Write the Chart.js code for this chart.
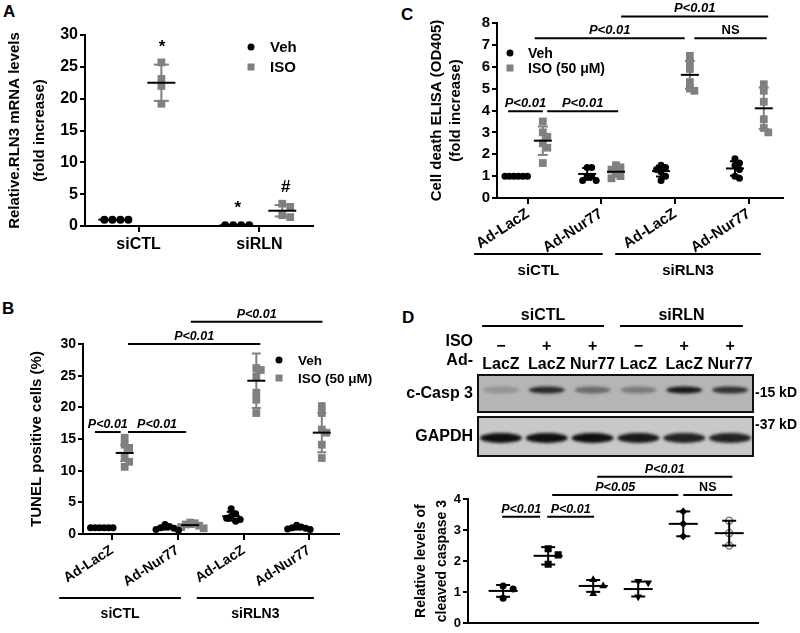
<!DOCTYPE html>
<html>
<head>
<meta charset="utf-8">
<script src="https://cdn.jsdelivr.net/npm/chart.js@4/dist/chart.umd.min.js"></script>
<style>
  body { margin: 0; background: #fff; width: 800px; height: 633px; position: relative; overflow: hidden; }
  canvas { position: absolute; left: 0; top: 0; }
  .tag { position: absolute; font: bold 17px "Liberation Sans", Arial, sans-serif; line-height: 1; }
</style>
</head>
<body>
<div class="tag" style="left:3px;top:3px">A</div>
<div class="tag" style="left:2px;top:300px">B</div>
<div class="tag" style="left:401px;top:6px">C</div>
<div class="tag" style="left:402px;top:309px">D</div>
<canvas id="cA" width="800" height="633"></canvas>
<canvas id="cB" width="800" height="633"></canvas>
<canvas id="cC" width="800" height="633"></canvas>
<canvas id="cBlot" width="800" height="633"></canvas>
<canvas id="cD" width="800" height="633"></canvas>
<script>
// ---- A: relative RLN3 mRNA ----
const aCats = ["siCTL", "siRLN"];
const aVeh = [[1, 1, 1, 1], [0.1, 0.1, 0.1, 0.1]];
const aIso = [[25.7, 23.1, 22.0, 19.2], [3.5, 3.0, 1.7, 1.4]];
const aVehMean = [1, 0.1];
const aVehSd = [0, 0];
const aIsoMean = [22.5, 2.4];
const aIsoSd = [2.85, 0.9];
const aTicks = [0, 5, 10, 15, 20, 25, 30];

// ---- B: TUNEL positive cells ----
const bCats = ["Ad-LacZ", "Ad-Nur77", "Ad-LacZ", "Ad-Nur77"];
const bSets = ["siCTL", "siRLN3"];
const bVeh = [[1, 1, 1, 1, 1, 1], [1.5, 1.2, 1.0, 0.9, 0.7, 0.6], [4.0, 3.2, 2.8, 2.5, 2.3, 2.0], [1.4, 1.1, 1.0, 0.9, 0.8, 0.7]];
const bIso = [[15.2, 14.1, 13.6, 12.2, 11.4, 10.6], [1.8, 1.7, 1.5, 1.3, 1.1, 0.9], [26.2, 25.9, 24.9, 22.3, 21.2, 19.1], [20.2, 19.1, 16.5, 16.0, 14.1, 12.0]];
const bVehMean = [1.0, 1.0, 2.8, 0.95];
const bVehSd = [0.05, 0.3, 0.7, 0.25];
const bIsoMean = [12.8, 1.4, 24.2, 16.0];
const bIsoSd = [1.3, 0.3, 4.3, 3.1];
const bTicks = [0, 5, 10, 15, 20, 25, 30];

// ---- C: cell death ELISA ----
const cCats = ["Ad-LacZ", "Ad-Nur77", "Ad-LacZ", "Ad-Nur77"];
const cSets = ["siCTL", "siRLN3"];
const cVeh = [[1, 1, 1, 1, 1, 1], [1.4, 1.4, 1.0, 1.0, 0.8, 0.8], [1.5, 1.4, 1.3, 1.2, 1.0, 0.8], [1.8, 1.6, 1.5, 1.3, 1.0, 0.9]];
const cIso = [[3.5, 3.0, 2.8, 2.5, 2.3, 1.6], [1.5, 1.4, 1.3, 1.1, 1.0, 0.9], [6.5, 6.2, 5.9, 5.3, 5.0, 4.9], [5.2, 4.9, 4.4, 3.6, 3.2, 3.0]];
const cVehMean = [1.0, 1.1, 1.23, 1.35];
const cVehSd = [0.02, 0.27, 0.25, 0.33];
const cIsoMean = [2.62, 1.2, 5.63, 4.1];
const cIsoSd = [0.65, 0.2, 0.63, 0.95];
const cTicks = [0, 1, 2, 3, 4, 5, 6, 7, 8];

// ---- D: western blot + cleaved caspase 3 ----
const blotLanes = ["LacZ", "LacZ", "Nur77", "LacZ", "LacZ", "Nur77"];
const blotIso = ["\u2212", "+", "+", "\u2212", "+", "+"];
const blotSets = ["siCTL", "siRLN"];
const casp3Density = [0.2, 0.85, 0.45, 0.35, 0.95, 0.8];
const gapdhDensity = [1, 1, 1, 0.95, 0.9, 0.9];
const dVals = [[1.2, 1.1, 0.8], [2.4, 2.2, 1.9], [1.4, 1.2, 0.95], [1.35, 1.3, 0.85], [3.6, 3.2, 2.8], [3.3, 2.9, 2.5]];
const dMean = [1.04, 2.17, 1.2, 1.1, 3.2, 2.9];
const dSd = [0.19, 0.28, 0.19, 0.24, 0.4, 0.4];
const dTicks = [0, 1, 2, 3, 4];

const FONT = "'Liberation Sans', Arial, sans-serif";
const GRAY = "#808080";
Chart.defaults.font.family = FONT;
Chart.defaults.color = "#000";

function seg(ctx, x1, y1, x2, y2) {
  ctx.beginPath(); ctx.moveTo(x1, y1); ctx.lineTo(x2, y2); ctx.stroke();
}

// spread points with near-equal values sideways, like a column scatter
function swarm(vals, pxX, pxY, sw) {
  const placed = [];
  return vals.map(v => {
    const py = v * pxY;
    let off = 0;
    for (let k = 0; k < 30; k++) {
      off = (k % 2 ? 1 : -1) * Math.ceil(k / 2) * sw.step;
      if (!placed.some(p => Math.abs(p.y - py) < sw.cy && Math.abs(p.x - off) < sw.cx)) break;
    }
    placed.push({x: off, y: py});
    return off / pxX;
  });
}

function dotPlot(id, p) {
  const A = p.area;
  const pxX = (A.r - A.l) / p.xMax, pxY = (A.b - A.t) / p.yMax;
  const at = (s, i) => p.centers[s.idx ? s.idx[i] : i] + s.off;

  const datasets = p.series.map(s => {
    const data = [];
    s.vals.forEach((g, i) => {
      const sw = swarm(g, pxX, pxY, p.sw);
      g.forEach((v, k) => data.push({x: at(s, i) + sw[k], y: v}));
    });
    return {
      data, pointStyle: s.style, pointRadius: s.r, pointRotation: s.rot || 0,
      backgroundColor: s.fill || s.color, borderColor: s.color, borderWidth: s.bw || 0
    };
  });

  const deco = {
    id: "deco",
    afterDatasetsDraw(chart) {
      const {ctx, scales: {x, y}} = chart;
      ctx.save();
      ctx.lineWidth = 2;
      p.series.forEach(s => s.vals.forEach((g, i) => {
        const cx = x.getPixelForValue(at(s, i));
        const m = s.mean[i], sd = s.sd[i];
        const yt = y.getPixelForValue(m + sd), yb = y.getPixelForValue(m - sd), ym = y.getPixelForValue(m);
        ctx.strokeStyle = s.err;
        if (sd > 0) {
          seg(ctx, cx, yt, cx, yb);
          seg(ctx, cx - p.cw, yt, cx + p.cw, yt);
          seg(ctx, cx - p.cw, yb, cx + p.cw, yb);
        }
        ctx.strokeStyle = "#000";
        seg(ctx, cx - p.mw, ym, cx + p.mw, ym);
      }));
      ctx.restore();
    },
    afterDraw(chart) {
      const {ctx, chartArea, scales: {x, y}} = chart;
      ctx.save();
      ctx.lineWidth = 2; ctx.strokeStyle = "#000"; ctx.fillStyle = "#000";
      ctx.textAlign = "center"; ctx.textBaseline = "alphabetic";
      (p.sig || []).forEach(([x1, x2, v, t]) => {
        const py = y.getPixelForValue(v), a = x.getPixelForValue(x1), b = x.getPixelForValue(x2);
        seg(ctx, a, py, b, py);
        ctx.font = (t === "NS" ? "bold " : "italic bold ") + p.sigFont + "px " + FONT;
        ctx.fillText(t, (a + b) / 2, py - 4);
      });
      (p.sets || []).forEach(([x1, x2, t]) => {
        const a = x.getPixelForValue(x1), b = x.getPixelForValue(x2);
        const ly = chartArea.bottom + p.setLine;
        seg(ctx, a, ly, b, ly);
        ctx.font = "bold " + p.setFont + "px " + FONT;
        ctx.fillText(t, (a + b) / 2, ly + p.setText);
      });
      ctx.font = "bold " + (p.markFont || 16) + "px " + FONT;
      (p.marks || []).forEach(([xv, v, t]) => ctx.fillText(t, x.getPixelForValue(xv), y.getPixelForValue(v)));
      if (p.legend) {
        const L = p.legend;
        ctx.font = "bold " + L.font + "px " + FONT;
        ctx.textAlign = "left"; ctx.textBaseline = "middle";
        L.items.forEach((it, k) => {
          const ly = L.y + k * L.gap;
          ctx.fillStyle = it.color;
          if (it.style === "circle") { ctx.beginPath(); ctx.arc(L.x, ly, it.r, 0, Math.PI * 2); ctx.fill(); }
          else ctx.fillRect(L.x - it.r, ly - it.r, it.r * 2, it.r * 2);
          ctx.fillStyle = "#000";
          ctx.fillText(it.label, L.tx, ly + 1);
        });
      }
      ctx.restore();
    }
  };

  return new Chart(document.getElementById(id), {
    type: "scatter",
    data: {datasets},
    options: {
      responsive: false, animation: false, events: [],
      layout: {autoPadding: false, padding: {left: A.l - p.yW, right: 800 - A.r, top: A.t, bottom: 633 - A.b - p.xH}},
      plugins: {legend: {display: false}, tooltip: {enabled: false}},
      scales: {
        x: {
          type: "linear", min: 0, max: p.xMax,
          afterBuildTicks: s => { s.ticks = p.centers.map(v => ({value: v})); },
          afterFit: s => { s.height = p.xH; s.paddingLeft = 0; s.paddingRight = 0; },
          ticks: {
            display: !!p.xLabels, autoSkip: false, minRotation: p.rot || 0, maxRotation: p.rot || 0,
            font: {size: p.xFont, weight: "bold"}, padding: p.xPad, color: "#000",
            callback: (v, i) => p.xLabels ? p.xLabels[i] : ""
          },
          grid: {display: p.xTickMarks !== false, drawOnChartArea: false, tickLength: 6, color: "#000", lineWidth: 2},
          border: {display: true, color: "#000", width: 2}
        },
        y: {
          min: 0, max: p.yMax,
          afterBuildTicks: s => { s.ticks = p.yTicks.map(v => ({value: v})); },
          afterFit: s => { s.width = p.yW; },
          ticks: {font: {size: p.yFont, weight: "bold"}, padding: 2, color: "#000"},
          grid: {drawOnChartArea: false, tickLength: 5, color: "#000", lineWidth: 2},
          border: {color: "#000", width: 2},
          title: {
            display: true, text: p.yTitle, color: "#000",
            font: {size: p.titleFont, weight: "bold", lineHeight: p.titleLH + "px"},
            padding: {top: p.titlePad, bottom: 0}
          }
        }
      }
    },
    plugins: [deco]
  });
}

// Panel A
dotPlot("cA", {
  area: {l: 85, r: 313, t: 35, b: 226}, xMax: 2, yMax: 30, yTicks: aTicks, yW: 85, xH: 40,
  centers: [0.47, 1.53], xLabels: aCats, xFont: 16, xPad: 3,
  yFont: 16, yTitle: ["Relative.RLN3 mRNA levels", "(fold increase)"], titleFont: 15, titleLH: 25, titlePad: 2,
  mw: 14, cw: 7.5, sw: {cx: 7.5, cy: 6, step: 8},
  series: [
    {vals: aVeh, mean: aVehMean, sd: aVehSd, off: -0.23, style: "circle", r: 4, color: "#000", err: "#000"},
    {vals: aIso, mean: aIsoMean, sd: aIsoSd, off: 0.2, style: "rect", r: 5.5, color: GRAY, err: GRAY}
  ],
  marks: [[0.675, 27.3, "*"], [1.34, 2.0, "*"], [1.76, 5.3, "#"]], markFont: 17,
  legend: {x: 251, y: 47, gap: 20, tx: 270, font: 15, items: [
    {label: "Veh", style: "circle", r: 3.5, color: "#000"},
    {label: "ISO", style: "rect", r: 3.5, color: GRAY}
  ]}
});

// Panel B
dotPlot("cB", {
  area: {l: 83, r: 339, t: 344, b: 534}, xMax: 3.87, yMax: 30, yTicks: bTicks, yW: 55, xH: 60,
  centers: [0.44, 1.43, 2.43, 3.42], xLabels: bCats, xFont: 14, xPad: 2, rot: 33,
  yFont: 14, yTitle: "TUNEL positive cells (%)", titleFont: 15, titleLH: 17, titlePad: 0,
  mw: 9, cw: 4.5, sw: {cx: 4.5, cy: 6, step: 4.5},
  series: [
    {vals: bVeh, mean: bVehMean, sd: bVehSd, off: -0.19, style: "circle", r: 3.5, color: "#000", err: "#000"},
    {vals: bIso, mean: bIsoMean, sd: bIsoSd, off: 0.19, style: "rect", r: 5.5, color: GRAY, err: GRAY}
  ],
  sig: [[0.18, 0.57, 16.1, "P<0.01"], [0.68, 1.56, 16.1, "P<0.01"], [0.68, 2.68, 30, "P<0.01"], [1.63, 3.62, 33.5, "P<0.01"]],
  sigFont: 12.5,
  sets: [[-0.36, 1.48, bSets[0]], [1.72, 3.49, bSets[1]]], setLine: 64, setText: 20, setFont: 14,
  legend: {x: 279, y: 360, gap: 18, tx: 298, font: 13.5, items: [
    {label: "Veh", style: "circle", r: 3.5, color: "#000"},
    {label: "ISO (50 \u03bcM)", style: "rect", r: 3.5, color: GRAY}
  ]}
});

// Panel C
dotPlot("cC", {
  area: {l: 497, r: 783, t: 23, b: 198}, xMax: 3.87, yMax: 8, yTicks: cTicks, yW: 70, xH: 60,
  centers: [0.42, 1.41, 2.41, 3.41], xLabels: cCats, xFont: 15, xPad: 1, rot: 33,
  yFont: 15, yTitle: ["Cell death ELISA (OD405)", "(fold increase)"], titleFont: 15, titleLH: 19, titlePad: 0,
  mw: 9, cw: 5, sw: {cx: 4.5, cy: 6, step: 4.5},
  series: [
    {vals: cVeh, mean: cVehMean, sd: cVehSd, off: -0.19, style: "circle", r: 3.5, color: "#000", err: "#000"},
    {vals: cIso, mean: cIsoMean, sd: cIsoSd, off: 0.2, style: "rect", r: 5.5, color: GRAY, err: GRAY}
  ],
  sig: [[0.15, 0.62, 3.97, "P<0.01"], [0.68, 1.64, 3.97, "P<0.01"], [0.51, 2.54, 7.3, "P<0.01"], [1.68, 3.67, 8.3, "P<0.01"], [2.67, 3.65, 7.3, "NS"]],
  sigFont: 13,
  sets: [[-0.31, 1.43, cSets[0]], [1.6, 3.57, cSets[1]]], setLine: 56, setText: 21, setFont: 15,
  legend: {x: 510, y: 53, gap: 15, tx: 528, font: 14, items: [
    {label: "Veh", style: "circle", r: 3.5, color: "#000"},
    {label: "ISO (50 \u03bcM)", style: "rect", r: 3.5, color: GRAY}
  ]}
});

// Panel D, quantification
const dStyles = [
  {style: "circle", r: 3.5},
  {style: "rect", r: 5},
  {style: "triangle", r: 4.5},
  {style: "triangle", r: 4.5, rot: 180},
  {style: "rectRot", r: 4},
  {style: "circle", r: 3.5, fill: "#fff", color: GRAY, bw: 1.5}
];
dotPlot("cD", {
  area: {l: 468, r: 758, t: 499, b: 626}, xMax: 6.44, yMax: 4, yTicks: dTicks, yW: 57, xH: 5,
  centers: [0.78, 1.78, 2.78, 3.78, 4.78, 5.8], xTickMarks: false,
  yFont: 13, yTitle: ["Relative levels of", "cleaved caspase 3"], titleFont: 14, titleLH: 21, titlePad: 0,
  mw: 14.5, cw: 7, sw: {cx: 6, cy: 7, step: 5},
  series: dVals.map((v, k) => Object.assign({vals: [v], idx: [k], mean: [dMean[k]], sd: [dSd[k]], off: 0, color: "#000", err: "#000"}, dStyles[k])),
  sig: [[0.76, 1.6, 3.43, "P<0.01"], [1.76, 2.8, 3.43, "P<0.01"], [1.87, 4.67, 4.13, "P<0.05"], [4.78, 5.87, 4.13, "NS"], [2.87, 5.87, 4.72, "P<0.01"]],
  sigFont: 12.5
});

// Panel D, blot
const blot = {
  id: "blot",
  beforeDatasetsDraw(chart) {
    const {ctx, chartArea: c, scales: {x}} = chart;
    const boxes = [
      {top: c.top, bottom: c.top + 37, bg: "#b5b5b5", vals: casp3Density, yc: c.top + 15, h: 7, w: 36, label: "c-Casp 3", kd: "-15 kD", kdy: c.top + 18},
      {top: c.top + 42, bottom: c.bottom, bg: "#c8c8c8", vals: gapdhDensity, yc: c.top + 63, h: 10, w: 42, label: "GAPDH", kdy: c.top + 50, kd: "-37 kD"}
    ];
    ctx.save();
    boxes.forEach(b => {
      ctx.fillStyle = b.bg;
      ctx.fillRect(c.left, b.top, c.right - c.left, b.bottom - b.top);
      ctx.save();
      ctx.beginPath(); ctx.rect(c.left, b.top, c.right - c.left, b.bottom - b.top); ctx.clip();
      ctx.filter = "blur(1.6px)";
      b.vals.forEach((d, i) => {
        const cx = x.getPixelForValue(i);
        ctx.fillStyle = "rgba(15,15,15," + d + ")";
        ctx.beginPath(); ctx.ellipse(cx, b.yc, b.w / 2, b.h / 2, 0, 0, Math.PI * 2); ctx.fill();
      });
      ctx.restore();
      ctx.strokeStyle = "#111"; ctx.lineWidth = 2;
      ctx.strokeRect(c.left, b.top, c.right - c.left, b.bottom - b.top);
      ctx.fillStyle = "#000"; ctx.font = "bold 16px " + FONT; ctx.textBaseline = "middle";
      ctx.textAlign = "right"; ctx.fillText(b.label, c.left - 5, (b.top + b.bottom) / 2);
      ctx.textAlign = "left"; ctx.font = "bold 14px " + FONT; ctx.fillText(b.kd, c.right + 2, b.kdy);
    });
    // row labels and sets
    ctx.font = "bold 16px " + FONT; ctx.textAlign = "right";
    ctx.fillText("ISO", c.left - 5, c.top - 33);
    ctx.fillText("Ad-", c.left - 5, c.top - 14);
    ctx.lineWidth = 2; ctx.strokeStyle = "#000"; ctx.textAlign = "center"; ctx.textBaseline = "alphabetic";
    [[-0.41, 2.25, blotSets[0]], [2.6, 5.28, blotSets[1]]].forEach(([a, b, t]) => {
      const pa = x.getPixelForValue(a), pb = x.getPixelForValue(b);
      seg(ctx, pa, c.top - 49, pb, c.top - 49);
      ctx.fillText(t, (pa + pb) / 2, c.top - 55);
    });
    ctx.restore();
  }
};
new Chart(document.getElementById("cBlot"), {
  type: "bar",
  data: {
    labels: blotLanes.map((l, i) => [blotIso[i], l]),
    datasets: [{data: casp3Density, backgroundColor: "rgba(0,0,0,0)"}, {data: gapdhDensity, backgroundColor: "rgba(0,0,0,0)"}]
  },
  options: {
    responsive: false, animation: false, events: [],
    layout: {autoPadding: false, padding: {left: 478, right: 47, top: 330, bottom: 177}},
    plugins: {legend: {display: false}, tooltip: {enabled: false}},
    scales: {
      x: {
        position: "top", offset: true,
        afterFit: s => { s.height = 45; s.paddingLeft = 0; s.paddingRight = 0; },
        ticks: {font: {size: 16, weight: "bold", lineHeight: "18px"}, padding: -7, color: "#000", maxRotation: 0, autoSkip: false},
        grid: {display: false}, border: {display: false}
      },
      y: {display: false, min: 0, max: 1}
    }
  },
  plugins: [blot]
});
</script>
</body>
</html>
